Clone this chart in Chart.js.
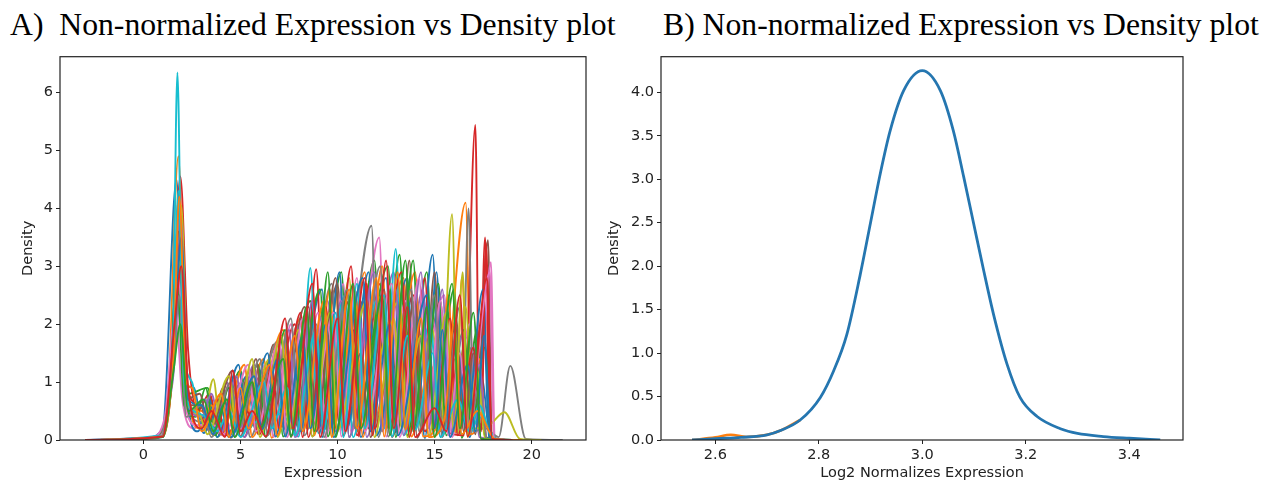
<!DOCTYPE html>
<html>
<head>
<meta charset="utf-8">
<script src="https://cdn.jsdelivr.net/npm/chart.js@4/dist/chart.umd.min.js"></script>
<style>
  body { margin: 0; background: #fff; }
  #wrap { position: relative; width: 1270px; height: 486px; overflow: hidden; background: #fff; }
  .ttl { position: absolute; top: 7px; font-family: 'Liberation Serif', 'Times New Roman', serif; font-size: 31.7px; color: #000; white-space: nowrap; }
  .panel { position: absolute; top: 45px; height: 441px; }
</style>
</head>
<body>
<div id="wrap">
  <div class="ttl" style="left:10px">A)&nbsp; Non-normalized Expression vs Density plot</div>
  <div class="ttl" style="left:663px">B) Non-normalized Expression vs Density plot</div>
  <div class="panel" style="left:18px;width:602px"><canvas id="chartA"></canvas></div>
  <div class="panel" style="left:604px;width:636px"><canvas id="chartB"></canvas></div>
</div>
<script>
// tick labels
const xTicksA = [0, 5, 10, 15, 20];
const yTicksA = [0, 1, 2, 3, 4, 5, 6];
const xTicksB = [2.6, 2.8, 3.0, 3.2, 3.4];
const yTicksB = [0, 0.5, 1.0, 1.5, 2.0, 2.5, 3.0, 3.5, 4.0];

const sample01 = [-3,0, 0,0.03, 1.0,0.2, 1.7,4.5, 2.1,1.0, 2.6,0.9, 3.1,0.12, 3.9,0.7, 4.4,0.05, 5.3,1.1, 5.8,0.15, 7.1,1.8, 7.6,0.08, 9.2,2.6, 9.6,0.2, 10.8,1.9, 11.2,0.05, 12.5,2.8, 12.9,0.12, 14.1,1.5, 14.5,0.03, 15.1,2.9, 15.5,0.18, 16.3,1.0, 16.8,0.05, 17.4,1.1, 17.9,0.02, 19,0, 21.5,0];
const sample02 = [-3,0, 0.5,0.04, 1.2,0.4, 1.8,4.9, 2.2,0.6, 3.0,0.5, 3.6,0.08, 4.5,1.0, 4.9,0.15, 6.2,1.4, 6.6,0.04, 8.1,2.1, 8.5,0.2, 9.9,2.6, 10.3,0.1, 11.4,2.9, 11.8,0.25, 13.4,2.8, 13.8,0.06, 14.8,1.3, 15.3,0.15, 16.6,4.1, 16.9,0.1, 17.5,0.3, 18.2,0.02, 19.5,0];
const sample03 = [-3,0, 0.6,0.05, 1.3,0.6, 1.85,3.6, 2.3,0.8, 3.3,0.9, 3.8,0.05, 5.0,1.2, 5.4,0.18, 6.8,1.6, 7.2,0.06, 8.6,2.4, 9.0,0.22, 10.2,2.9, 10.6,0.05, 11.9,3.1, 12.3,0.15, 13.2,3.2, 13.6,0.08, 14.6,2.9, 15.0,0.2, 16.0,2.6, 16.4,0.04, 17.2,1.9, 17.6,0.05, 19,0];
const sample04 = [-3,0, 0.7,0.05, 1.4,0.9, 1.9,4.55, 2.3,1.55, 2.8,0.5, 3.4,0.8, 3.9,0.1, 4.8,0.9, 5.2,0.05, 6.0,1.1, 6.4,0.12, 7.8,2.0, 8.2,0.05, 8.9,2.95, 9.3,0.18, 10.6,2.4, 11.0,0.08, 12.2,2.7, 12.6,0.2, 13.9,2.5, 14.5,0.15, 15.0,0.55, 15.6,0.15, 16.5,0.08, 17.1,5.44, 17.3,0.25, 17.6,3.5, 17.85,0.05, 19,0];
const sample05 = [-3,0, 0.8,0.06, 1.5,1.0, 1.95,2.6, 2.4,0.5, 3.2,0.7, 3.7,0.12, 4.3,1.0, 4.7,0.06, 5.7,1.3, 6.1,0.2, 7.4,1.7, 7.8,0.05, 9.5,2.4, 9.9,0.15, 11.1,2.6, 11.5,0.05, 12.9,2.9, 13.3,0.22, 14.4,2.6, 14.8,0.08, 15.7,2.4, 16.1,0.12, 16.9,1.6, 17.3,0.05, 19,0];
const sample06 = [-3,0, 0.6,0.03, 1.3,0.5, 1.75,3.2, 2.2,0.6, 2.9,0.6, 3.5,0.15, 4.1,0.9, 4.5,0.04, 5.5,1.2, 5.9,0.1, 6.7,1.65, 7.1,0.22, 8.3,2.3, 8.7,0.06, 10.0,2.7, 10.4,0.18, 11.3,2.4, 11.7,0.05, 12.7,2.6, 13.1,0.12, 13.7,3.1, 14.1,0.04, 15.3,2.4, 15.7,0.2, 16.7,1.8, 17.1,0.1, 17.75,3.45, 17.95,0.02, 19,0];
const sample07 = [-3,0, 0.4,0.05, 1.1,0.4, 1.65,2.3, 2.0,0.7, 2.6,0.2, 3.3,0.45, 4.0,0.08, 4.7,1.1, 5.1,0.15, 6.3,1.3, 6.7,0.05, 7.6,2.0, 8.0,0.2, 9.0,2.2, 9.4,0.04, 10.3,2.7, 10.7,0.12, 12.15,3.5, 12.5,0.06, 13.5,2.4, 13.9,0.2, 15.5,2.5, 15.9,0.05, 16.8,2.0, 17.2,0.15, 17.9,3.07, 18.1,0.02, 19,0];
const sample08 = [-3,0, 0.9,0.06, 1.5,1.2, 1.9,3.0, 2.3,0.5, 3.1,0.3, 3.6,0.1, 5.1,1.0, 5.5,0.05, 6.9,1.7, 7.3,0.18, 7.9,2.0, 8.3,0.08, 9.7,2.7, 10.1,0.2, 11.75,3.7, 12.1,0.05, 13.1,2.5, 13.5,0.15, 14.6,2.2, 15.0,0.06, 16.0,1.4, 16.4,0.2, 16.75,4.0, 17.0,0.15, 17.6,0.2, 18.3,0.05, 18.9,1.28, 19.7,0.02, 21.6,0];
const sample09 = [-3,0, 0.7,0.05, 1.4,0.8, 1.95,4.05, 2.3,0.7, 3.1,0.4, 3.6,1.05, 4.0,0.1, 4.9,0.8, 5.3,0.18, 6.5,1.4, 6.9,0.05, 8.0,1.9, 8.4,0.2, 9.3,2.0, 9.7,0.06, 10.6,2.8, 11.0,0.15, 13.2,2.4, 13.6,0.05, 14.9,1.9, 15.3,0.22, 15.9,3.9, 16.2,0.1, 16.6,2.3, 17.0,0.2, 17.8,0.25, 18.6,0.48, 19.4,0.02, 20.5,0];
const sample10 = [-3,0, 0.9,0.08, 1.5,1.6, 1.75,6.35, 2.0,1.8, 2.5,1.0, 3.0,0.2, 3.5,0.5, 4.0,0.1, 4.6,0.8, 5.0,0.15, 6.0,0.35, 7.1,0.45, 8.0,0.06, 8.6,2.97, 9.0,0.12, 10.4,2.5, 10.8,0.05, 12.0,2.4, 12.4,0.2, 13.0,3.3, 13.4,0.08, 14.8,2.0, 15.2,0.18, 16.2,0.7, 16.8,0.12, 17.3,0.4, 18.2,0.02, 19.5,0];
const sample11 = [-3,0, 0.8,0.05, 1.4,1.0, 1.8,3.8, 2.2,0.9, 2.8,0.15, 3.4,0.7, 3.8,0.05, 4.9,1.3, 5.3,0.2, 6.4,1.5, 6.8,0.06, 7.7,1.6, 8.1,0.15, 8.8,2.1, 9.2,0.05, 10.1,2.9, 10.5,0.22, 11.6,2.9, 12.0,0.08, 13.6,2.8, 14.0,0.18, 14.9,3.2, 15.3,0.05, 16.2,1.7, 16.6,0.15, 17.5,2.6, 17.8,0.03, 19,0];
const sample12 = [-3,0, 0.9,0.06, 1.5,1.2, 1.9,3.3, 2.3,0.8, 2.9,0.2, 3.5,0.6, 4.0,0.1, 5.2,1.3, 5.6,0.05, 7.2,1.9, 7.6,0.2, 8.4,2.2, 8.8,0.08, 9.6,2.6, 10.0,0.15, 10.9,2.6, 11.3,0.05, 12.3,3.0, 12.7,0.2, 14.0,2.9, 14.4,0.06, 15.2,0.3, 15.7,2.5, 16.1,0.12, 16.4,2.8, 16.8,0.08, 17.3,1.4, 17.7,0.02, 19,0];
const sample13 = [-3,0, 0.8,0.05, 1.4,0.9, 1.7,3.0, 2.1,0.6, 2.7,0.4, 3.2,0.9, 3.7,0.08, 4.4,0.9, 4.8,0.15, 5.9,1.3, 6.3,0.05, 7.3,1.9, 7.7,0.18, 9.1,2.6, 9.5,0.06, 10.5,2.5, 10.9,0.2, 12.6,3.0, 13.0,0.05, 13.9,3.1, 14.3,0.15, 15.2,2.7, 15.6,0.08, 16.5,1.9, 16.9,0.2, 17.6,1.6, 17.9,0.02, 19,0];
const sample14 = [-3,0, 0.9,0.06, 1.5,1.3, 1.85,3.4, 2.2,1.1, 2.7,0.6, 3.3,0.25, 3.8,0.7, 4.2,0.08, 5.3,0.5, 6.0,0.1, 6.6,1.3, 7.0,0.2, 8.1,2.2, 8.5,0.05, 9.4,2.3, 9.8,0.15, 10.7,3.0, 11.1,0.06, 11.5,2.7, 11.9,0.2, 13.3,2.9, 13.7,0.05, 14.5,2.8, 14.9,0.18, 15.8,2.1, 16.2,0.08, 17.0,1.6, 17.4,0.15, 17.65,3.4, 17.9,0.02, 19,0];
const sample15 = [-3,0, 1.0,0.07, 1.5,1.4, 1.9,3.9, 2.3,0.6, 3.0,0.4, 3.5,0.8, 4.0,0.12, 4.8,1.1, 5.2,0.05, 6.1,1.0, 6.5,0.18, 7.5,1.9, 7.9,0.06, 8.7,2.4, 9.1,0.2, 10.2,2.4, 10.6,0.05, 11.9,2.9, 12.3,0.15, 13.0,2.6, 13.4,0.08, 14.3,2.9, 14.7,0.2, 15.4,2.6, 15.8,0.05, 16.4,1.8, 16.8,0.12, 17.3,1.3, 17.7,0.02, 19,0];
const sample16 = [-3,0, 0.9,0.05, 1.45,1.0, 1.8,3.6, 2.2,0.7, 2.9,0.8, 3.4,0.15, 4.6,1.2, 5.0,0.06, 5.8,1.4, 6.2,0.2, 7.2,1.5, 7.6,0.05, 8.5,2.3, 8.9,0.15, 9.9,2.8, 10.3,0.08, 11.2,1.5, 11.6,0.2, 12.4,2.6, 12.8,0.05, 14.0,2.4, 14.4,0.18, 15.0,2.9, 15.4,0.06, 16.1,2.1, 16.5,0.15, 17.0,1.5, 17.4,0.02, 19,0];
const sample17 = [-3,0, 0.8,0.05, 1.35,0.7, 1.8,2.8, 2.2,0.5, 2.8,0.25, 3.4,0.3, 4.2,0.1, 5.4,1.3, 5.8,0.15, 7.0,1.7, 7.4,0.05, 8.2,2.1, 8.6,0.2, 9.8,2.2, 10.2,0.06, 11.0,2.8, 11.4,0.15, 12.8,2.7, 13.2,0.05, 14.2,2.8, 14.6,0.2, 15.3,2.4, 15.7,0.08, 16.3,1.5, 16.7,0.18, 17.85,2.9, 18.05,0.02, 19,0];
const sample18 = [-3,0, 0.9,0.05, 1.45,1.1, 1.85,2.5, 2.2,0.4, 3.0,0.6, 3.5,0.05, 4.5,1.0, 4.9,0.2, 6.0,1.4, 6.4,0.08, 7.6,2.1, 8.0,0.15, 8.9,2.0, 9.3,0.05, 10.5,2.6, 10.9,0.2, 12.2,3.0, 12.6,0.06, 13.8,2.6, 14.2,0.15, 15.0,2.5, 15.4,0.05, 16.3,2.3, 16.7,0.2, 17.3,0.9, 17.7,0.02, 19,0];
const sample19 = [-3,0, 1.0,0.06, 1.5,1.3, 1.9,3.1, 2.3,0.6, 2.8,0.5, 3.3,0.1, 4.4,1.1, 4.8,0.15, 5.6,1.4, 6.0,0.05, 7.1,1.8, 7.5,0.2, 8.3,1.6, 8.7,0.06, 9.6,2.2, 10.0,0.18, 11.5,2.4, 11.9,0.05, 12.9,2.1, 13.3,0.2, 14.3,1.8, 14.7,0.08, 15.6,2.2, 16.0,0.15, 16.45,2.9, 16.7,0.05, 17.2,1.2, 17.6,0.02, 19,0];
const sample20 = [-3,0, 1.0,0.07, 1.5,1.5, 1.8,4.3, 2.1,1.0, 2.6,0.5, 3.2,0.4, 3.8,0.15, 4.4,0.5, 5.0,0.05, 6.2,1.0, 6.6,0.2, 7.4,0.9, 7.8,0.08, 8.9,1.9, 9.3,0.15, 9.9,2.2, 10.3,0.05, 11.0,2.7, 11.4,0.2, 12.4,2.5, 12.8,0.06, 13.6,1.8, 14.0,0.18, 14.9,1.5, 15.3,0.05, 16.2,0.7, 16.8,0.15, 17.3,0.6, 18.0,0.02, 19.5,0];
const sample21 = [-3,0, 1.0,0.05, 1.6,1.8, 1.95,3.5, 2.3,0.7, 3.0,0.6, 3.6,0.1, 4.1,0.6, 4.5,0.05, 5.7,1.1, 6.1,0.18, 6.9,1.4, 7.3,0.06, 8.2,1.8, 8.6,0.2, 9.4,2.0, 9.8,0.05, 11.3,2.8, 11.7,0.15, 12.7,2.0, 13.1,0.08, 14.6,2.5, 15.0,0.2, 15.4,1.9, 15.8,0.05, 16.7,1.3, 17.1,0.15, 17.55,1.8, 17.9,0.02, 19,0];
const sample22 = [-3,0, 1.0,0.06, 1.55,1.5, 1.85,4.2, 2.2,1.0, 2.5,0.9, 3.0,0.15, 4.0,0.8, 4.4,0.05, 5.0,0.9, 5.4,0.2, 6.5,1.3, 6.9,0.08, 7.8,1.8, 8.2,0.15, 9.3,2.4, 9.7,0.05, 10.6,2.6, 11.0,0.2, 12.0,2.8, 12.4,0.06, 13.1,2.9, 13.5,0.18, 14.3,2.1, 14.7,0.05, 15.5,0.35, 16.0,2.0, 16.4,0.1, 17.2,0.5, 18.1,0.02, 19.5,0];
const sample23 = [-3,0, 1.0,0.05, 1.55,1.2, 1.9,2.0, 2.3,0.5, 3.1,0.7, 3.6,0.15, 4.3,0.7, 4.7,0.05, 5.6,1.0, 6.0,0.2, 7.2,1.4, 7.6,0.06, 8.4,2.3, 8.8,0.15, 9.5,2.9, 9.9,0.05, 10.8,2.7, 11.2,0.2, 12.3,2.5, 12.7,0.08, 13.5,3.1, 13.9,0.15, 14.6,2.3, 15.0,0.05, 15.9,2.7, 16.3,0.2, 17.0,2.2, 17.4,0.02, 19,0];
const sample24 = [-3,0, 1.0,0.06, 1.6,2.0, 1.95,3.0, 2.3,0.9, 3.0,0.2, 3.5,0.5, 4.2,0.05, 4.6,1.2, 5.0,0.15, 5.6,0.5, 6.3,0.06, 7.3,2.1, 7.7,0.2, 8.7,2.7, 9.1,0.05, 10.0,2.1, 10.4,0.15, 11.4,2.8, 11.8,0.08, 12.5,3.1, 12.9,0.2, 13.6,2.3, 14.0,0.05, 15.0,0.55, 15.6,0.15, 16.3,2.5, 16.7,0.06, 17.7,2.8, 17.95,0.02, 19,0];

// panel B: normalized density (blue) and the faint orange underneath
const normX = [2.555, 2.6, 2.65, 2.7, 2.726, 2.764, 2.803, 2.829, 2.854, 2.88, 2.9, 2.919, 2.938, 2.964, 3.0, 3.035, 3.06, 3.08, 3.099, 3.118, 3.138, 3.164, 3.189, 3.222, 3.267, 3.3, 3.35, 3.4, 3.46];
const normY = [0, 0.015, 0.03, 0.06, 0.11, 0.23, 0.49, 0.8, 1.21, 1.9, 2.5, 3.07, 3.56, 4.02, 4.25, 4.02, 3.56, 3.03, 2.5, 1.97, 1.44, 0.87, 0.49, 0.27, 0.13, 0.075, 0.04, 0.02, 0];
const orangeX = [2.555, 2.6, 2.63, 2.66, 2.7, 2.726, 2.764];
const orangeY = [0, 0.03, 0.06, 0.035, 0.06, 0.11, 0.23];

const samplesA = [sample01, sample02, sample03, sample04, sample05, sample06, sample07, sample08,
  sample09, sample10, sample11, sample12, sample13, sample14, sample15, sample16, sample17, sample18,
  sample19, sample20, sample21, sample22, sample23, sample24];

const tab10 = ['#1f77b4', '#ff7f0e', '#2ca02c', '#d62728', '#9467bd', '#8c564b', '#e377c2', '#7f7f7f', '#bcbd22', '#17becf'];

const pairs = flat => {
  const out = [];
  for (let i = 0; i < flat.length; i += 2) out.push({ x: flat[i], y: flat[i + 1] });
  return out;
};
const zip = (xs, ys) => xs.map((x, i) => ({ x, y: ys[i] }));

// matplotlib style frame on all four sides
const frame = {
  id: 'frame',
  afterDatasetsDraw(chart) {
    const { ctx, chartArea: a } = chart;
    ctx.save();
    ctx.strokeStyle = '#222';
    ctx.lineWidth = 1.2;
    ctx.strokeRect(a.left, a.top, a.right - a.left, a.bottom - a.top);
    ctx.restore();
  }
};

const tickFont = { family: 'DejaVu Sans', size: 14.5 };

function axis(min, max, values, fmt, title, fitSize, isX) {
  return {
    type: 'linear',
    min, max,
    border: { display: false },
    grid: { drawOnChartArea: false, drawTicks: true, tickLength: 4, color: '#222', lineWidth: 1 },
    ticks: { font: tickFont, color: '#222', padding: 3, maxRotation: 0, autoSkip: false, callback: fmt },
    afterBuildTicks: s => { s.ticks = values.map(v => ({ value: v })); },
    afterFit: s => { if (isX) s.height = fitSize; else s.width = fitSize; },
    title: { display: true, text: title, font: { family: 'DejaVu Sans', size: 14.5 }, color: '#222', padding: isX ? { top: 2 } : { top: 2, bottom: 4 } }
  };
}

Chart.defaults.animation = false;

new Chart(document.getElementById('chartA'), {
  type: 'line',
  data: {
    datasets: samplesA.map((s, i) => ({
      data: pairs(s),
      borderColor: tab10[i % 10],
      borderWidth: 1.9,
      pointRadius: 0,
      cubicInterpolationMode: 'monotone',
      fill: false
    })).reverse()
  },
  options: {
    responsive: true,
    maintainAspectRatio: false,
    layout: { padding: { left: 0, right: 34, top: 3, bottom: 0 } },
    plugins: { legend: { display: false }, tooltip: { enabled: false } },
    scales: {
      x: axis(-4.3, 22.8, xTicksA, v => String(v), 'Expression', 46, true),
      y: axis(0, 6.62, yTicksA, v => String(v), 'Density', 42, false)
    }
  },
  plugins: [frame]
});

new Chart(document.getElementById('chartB'), {
  type: 'line',
  data: {
    datasets: [
      { data: zip(normX, normY), borderColor: '#2576b0', borderWidth: 2.8, pointRadius: 0, cubicInterpolationMode: 'monotone', fill: false },
      { data: zip(orangeX, orangeY), borderColor: '#ff7f0e', borderWidth: 2.6, pointRadius: 0, cubicInterpolationMode: 'monotone', fill: false }
    ]
  },
  options: {
    responsive: true,
    maintainAspectRatio: false,
    layout: { padding: { left: 0, right: 57, top: 3, bottom: 0 } },
    plugins: { legend: { display: false }, tooltip: { enabled: false } },
    scales: {
      x: axis(2.495, 3.504, xTicksB, v => v.toFixed(1), 'Log2 Normalizes Expression', 46, true),
      y: axis(0, 4.41, yTicksB, v => v.toFixed(1), 'Density', 57, false)
    }
  },
  plugins: [frame]
});
</script>
</body>
</html>
